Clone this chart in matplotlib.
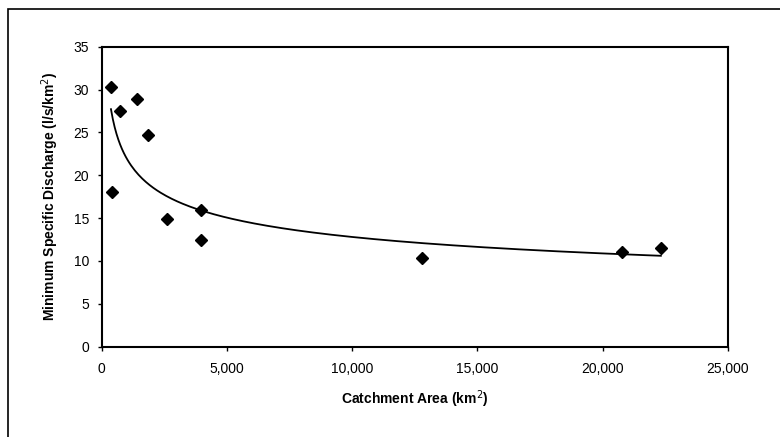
import matplotlib
matplotlib.use("Agg")
import matplotlib.pyplot as plt
from matplotlib.patches import Rectangle
from matplotlib.ticker import FuncFormatter
import numpy as np

plt.rcParams['font.family'] = ['Liberation Sans', 'DejaVu Sans']

# catchment area (km2) and minimum specific discharge (l/s/km2)
area = [370, 400, 730, 1400, 1840, 2600, 3970, 3945, 12790, 20770, 22320]
discharge = [30.3, 18.0, 27.5, 28.9, 24.7, 14.9, 15.95, 12.45, 10.4, 11.1, 11.55]

# power trendline fitted on the data (like a spreadsheet trendline)
b, ln_a = np.polyfit(np.log(area), np.log(discharge), 1)
xs = np.linspace(min(area), max(area), 300)
ys = np.exp(ln_a) * xs ** b

fig = plt.figure(figsize=(7.8, 4.37), dpi=100)
ax = fig.add_axes([101.7/780, 1-346.7/437, (728-101.7)/780, 300/437])

ax.plot(xs, ys, color='black', lw=1.3)
ax.plot(area, discharge, linestyle='none', marker='D', markersize=6.5,
        color='black')

ax.set_xlim(0, 25000)
ax.set_ylim(0, 35)
ax.set_xticks(np.arange(0, 25001, 5000))
ax.set_yticks(np.arange(0, 36, 5))
ax.xaxis.set_major_formatter(FuncFormatter(lambda v, p: f"{int(v):,}"))
ax.tick_params(direction='out', length=3, width=1, labelsize=10, pad=6)
ax.tick_params(axis='x', pad=8)
for s in ax.spines.values():
    s.set_linewidth(1.5)

ax.set_xlabel('Catchment Area (km$^2$)', fontsize=10, fontweight='bold', labelpad=9)
ax.set_ylabel('Minimum Specific Discharge (l/s/km$^2$)', fontsize=10,
              fontweight='bold', labelpad=9)

# outer chart frame (cropped at the right and bottom)
fig.patches.append(Rectangle((8/780, -0.1), 1.2, 1-9/437+0.1,
                             transform=fig.transFigure, fill=False,
                             edgecolor='black', lw=1.2))

fig.savefig('out.png', dpi=100)
